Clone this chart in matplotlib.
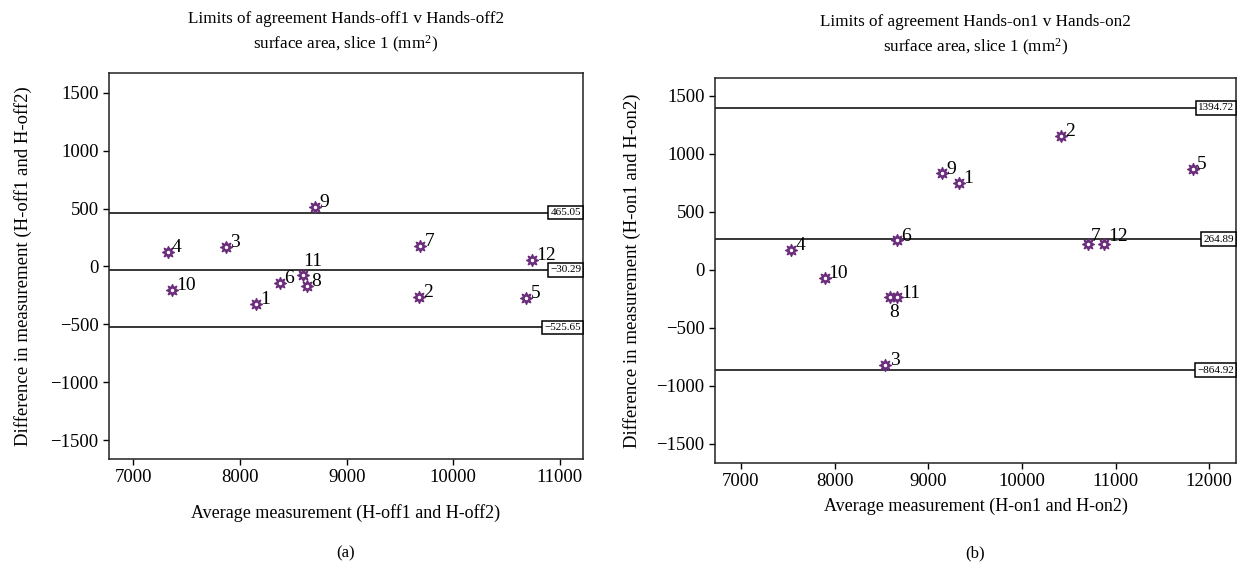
import matplotlib
matplotlib.use('Agg')
import matplotlib.pyplot as plt
import matplotlib.transforms as mtransforms
from matplotlib.path import Path

plt.rcParams['font.family'] = ['Liberation Serif', 'DejaVu Serif']
plt.rcParams['mathtext.fontset'] = 'custom'
plt.rcParams['mathtext.rm'] = 'Liberation Serif'
plt.rcParams['mathtext.it'] = 'Liberation Serif:italic'

# panel (a): Hands-off1 v Hands-off2
off_ids = ['1', '2', '3', '4', '5', '6', '7', '8', '9', '10', '11', '12']
off_avg = [8151, 9680, 7870, 7323, 10684, 8379, 9690, 8629, 8705, 7360, 8595, 10737]
off_diff = [-321, -264, 171, 123, -272, -145, 177, -169, 512, -206, -76, 54]
off_limits = [465.05, -30.29, -525.65]

# panel (b): Hands-on1 v Hands-on2
on_ids = ['1', '2', '3', '4', '5', '6', '7', '8', '9', '10', '11', '12']
on_avg = [9333, 10415, 8543, 7540, 11822, 8671, 10702, 8594, 9147, 7893, 8667, 10877]
on_diff = [750, 1153, -819, 170, 866, 253, 222, -238, 831, -69, -238, 222]
on_limits = [1394.72, 264.89, -864.92]

purple = '#6b2d7b'
star = Path.unit_regular_star(8, 0.55)


def fmt(v):
    s = '%.2f' % v
    return s.replace('-', '\u2212')


def panel(ax, ids, xs, ys, limits, title, xlabel, ylabel, xlim, ylim, xticks,
          offsets, xlabelpad, ylabelpad, titlepad):
    tr = mtransforms.blended_transform_factory(ax.transAxes, ax.transData)
    for v in limits:
        ax.axhline(v, color='black', lw=1.1, zorder=1)
        ax.text(0.996, v, fmt(v), transform=tr, ha='right', va='center',
                fontsize=8,
                bbox=dict(boxstyle='square,pad=0.2', fc='white', ec='black', lw=1.1),
                zorder=3)
    ax.plot(xs, ys, ls='none', marker=star, ms=8.5, color=purple, mec=purple, zorder=4)
    ax.plot(xs, ys, ls='none', marker='o', ms=2.5, color='white', mec='none', zorder=5)
    for lab, x, y in zip(ids, xs, ys):
        dx, dy, ha, va = offsets.get(lab, (3, -3, 'left', 'bottom'))
        ax.annotate(lab, (x, y), xytext=(dx, dy), textcoords='offset points',
                    ha=ha, va=va, fontsize=14, zorder=6)
    ax.set_xlim(*xlim)
    ax.set_ylim(*ylim)
    ax.set_xticks(xticks)
    ax.set_yticks([-1500, -1000, -500, 0, 500, 1000, 1500])
    ax.tick_params(direction='out', length=4, width=1, labelsize=13.5,
                   colors='black', labelfontfamily='Liberation Serif')
    for sp in ax.spines.values():
        sp.set_linewidth(1.1)
        sp.set_color('#222222')
    ax.set_title(title, fontsize=12.3, pad=titlepad, linespacing=1.45)
    ax.set_xlabel(xlabel, fontsize=13, labelpad=xlabelpad)
    ax.set_ylabel(ylabel, fontsize=13.5, labelpad=ylabelpad)


fig = plt.figure(figsize=(12.48, 5.69), dpi=100)
ax1 = fig.add_axes([109 / 1248, 1 - 459 / 569, (583 - 109) / 1248, (459 - 73) / 569])
ax2 = fig.add_axes([715 / 1248, 1 - 463 / 569, (1236 - 715) / 1248, (463 - 78) / 569])

panel(ax1, off_ids, off_avg, off_diff, off_limits,
      'Limits of agreement Hands-off1 v Hands-off2\nsurface area, slice 1 (mm$^2$)',
      'Average measurement (H-off1 and H-off2)',
      'Difference in measurement (H-off1 and H-off2)',
      (6772, 11216), (-1664, 1672), [7000, 8000, 9000, 10000, 11000],
      {'11': (0, 4, 'left', 'bottom')}, 13, 13, 17)

panel(ax2, on_ids, on_avg, on_diff, on_limits,
      'Limits of agreement Hands-on1 v Hands-on2\nsurface area, slice 1 (mm$^2$)',
      'Average measurement (H-on1 and H-on2)',
      'Difference in measurement (H-on1 and H-on2)',
      (6724, 12285), (-1666, 1653), [7000, 8000, 9000, 10000, 11000, 12000],
      {'8': (3, -5, 'center', 'top'), '7': (2, -1, 'left', 'bottom'),
       '12': (3, -1, 'left', 'bottom')}, 5, 11, 19)

fig.text(346 / 1248, 1 - 553 / 569, '(a)', ha='center', va='center', fontsize=12)
fig.text(975 / 1248, 1 - 553 / 569, '(b)', ha='center', va='center', fontsize=12)

fig.savefig('out.png', dpi=100)
